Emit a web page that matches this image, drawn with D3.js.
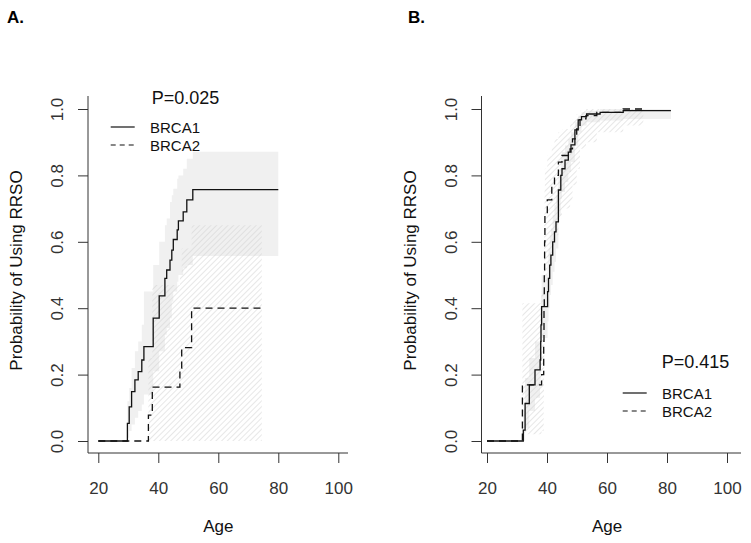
<!DOCTYPE html>
<html>
<head>
<meta charset="utf-8">
<script src="https://cdn.jsdelivr.net/npm/d3@7"></script>
<style>
  body { margin: 0; background: #fff; }
  svg { display: block; font-family: Arial, "Liberation Sans", sans-serif; }
</style>
</head>
<body>
<svg width="751" height="543"></svg>
<script>
const ageTicks = [20, 40, 60, 80, 100];
const probTicks = [0, 0.2, 0.4, 0.6, 0.8, 1.0];
const groups = ['BRCA1', 'BRCA2'];
const pValues = ['P=0.025', 'P=0.415'];
const panelTags = ['A.', 'B.'];

// panel A - BRCA1 (solid, grey band)
const aB1Age = [29.7, 30.3, 31.1, 32.2, 33.3, 34.5, 35.2, 38.3, 40.3, 42.2, 42.8, 43.9, 44.5, 45.0, 46.3, 46.7, 48.3, 49.5, 51.5];
const aB1Est = [0.053, 0.103, 0.149, 0.184, 0.209, 0.244, 0.284, 0.37, 0.437, 0.49, 0.515, 0.545, 0.575, 0.607, 0.636, 0.663, 0.69, 0.726, 0.757];
const aB1Lo  = [0.01, 0.03, 0.05, 0.07, 0.09, 0.11, 0.14, 0.21, 0.27, 0.32, 0.34, 0.37, 0.42, 0.45, 0.48, 0.50, 0.52, 0.53, 0.557];
const aB1Hi  = [0.12, 0.16, 0.22, 0.27, 0.30, 0.35, 0.45, 0.53, 0.60, 0.65, 0.67, 0.72, 0.74, 0.76, 0.79, 0.80, 0.82, 0.85, 0.871];
const aB1End = 80;

// panel A - BRCA2 (dashed, hatched band)
const aB2Age = [36.7, 38.0, 47.2, 47.8, 51.1];
const aB2Est = [0.078, 0.162, 0.219, 0.281, 0.40];
const aB2Lo  = [0, 0, 0, 0, 0];
const aB2Hi  = [0.25, 0.47, 0.50, 0.58, 0.65];
const aB2End = 74.5;

// panel B - BRCA1
const bB1Age = [32.1, 32.7, 34.1, 36.0, 37.7, 37.9, 38.0, 38.2, 40.2, 40.5, 40.9, 41.3, 41.9, 42.5, 43.0, 43.8, 44.6, 45.0, 46.0, 47.1, 48.0, 49.3, 50.4, 51.5, 53.2, 57.7, 65.4];
const bB1Est = [0.033, 0.113, 0.169, 0.214, 0.244, 0.30, 0.35, 0.405, 0.45, 0.49, 0.53, 0.56, 0.60, 0.63, 0.66, 0.756, 0.80, 0.82, 0.846, 0.87, 0.892, 0.937, 0.967, 0.977, 0.985, 0.99, 0.995];
const bB1Lo  = [0, 0.04, 0.09, 0.13, 0.16, 0.21, 0.26, 0.31, 0.36, 0.40, 0.44, 0.47, 0.51, 0.54, 0.58, 0.68, 0.73, 0.75, 0.78, 0.81, 0.84, 0.89, 0.93, 0.95, 0.96, 0.965, 0.97];
const bB1Hi  = [0.09, 0.19, 0.25, 0.30, 0.33, 0.39, 0.44, 0.50, 0.54, 0.58, 0.62, 0.64, 0.68, 0.71, 0.74, 0.82, 0.86, 0.87, 0.89, 0.91, 0.93, 0.96, 0.98, 0.99, 0.995, 1, 1];
const bB1End = 81.3;

// panel B - BRCA2
const bB2Age = [31.8, 38.2, 38.9, 39.0, 39.1, 39.2, 39.3, 40.1, 41.6, 42.5, 43.8, 45.0, 47.7, 48.5, 49.9, 51.0, 53.0, 56.6, 65.4];
const bB2Est = [0.169, 0.20, 0.30, 0.40, 0.50, 0.60, 0.676, 0.726, 0.77, 0.80, 0.84, 0.86, 0.88, 0.91, 0.94, 0.97, 0.98, 0.99, 1.0];
const bB2Lo  = [0.02, 0.03, 0.12, 0.20, 0.30, 0.40, 0.48, 0.53, 0.58, 0.62, 0.67, 0.70, 0.72, 0.77, 0.82, 0.88, 0.90, 0.93, 0.95];
const bB2Hi  = [0.415, 0.45, 0.52, 0.60, 0.68, 0.76, 0.82, 0.86, 0.89, 0.91, 0.93, 0.94, 0.955, 0.97, 0.985, 0.995, 1, 1, 1];
const bB2End = 72.1;

const svg = d3.select('svg');

// hatch for the BRCA2 confidence band
svg.append('defs').append('pattern')
    .attr('id', 'hatch')
    .attr('patternUnits', 'userSpaceOnUse')
    .attr('width', 4).attr('height', 4)
    .attr('patternTransform', 'rotate(45)')
  .append('line')
    .attr('x1', 0).attr('y1', 0).attr('x2', 0).attr('y2', 4)
    .attr('stroke', '#cfcfcf').attr('stroke-width', 1);

const panels = [
    {
        tag: panelTags[0], tagX: 7, p: pValues[0],
        axisX: 88, xRange: [98.3, 338.3], xEnd: 348,
        yLabX: 22, tickLabX: 63,
        pX: 151.7, pY: 104, legX: 110.7, legY: 127,
        s1: [aB1Age, aB1Est, aB1Lo, aB1Hi, aB1End],
        s2: [aB2Age, aB2Est, aB2Lo, aB2Hi, aB2End]
    },
    {
        tag: panelTags[1], tagX: 408, p: pValues[1],
        axisX: 481.5, xRange: [487, 727], xEnd: 741,
        yLabX: 415.5, tickLabX: 456.5,
        pX: 661.7, pY: 368, legX: 622.7, legY: 393,
        s1: [bB1Age, bB1Est, bB1Lo, bB1Hi, bB1End],
        s2: [bB2Age, bB2Est, bB2Lo, bB2Hi, bB2End]
    }
];

const plotTop = 96, plotBottom = 453;
const y = d3.scaleLinear().domain([0, 1]).range([441, 109]);

panels.forEach(P => {
    const g = svg.append('g');
    const x = d3.scaleLinear().domain([20, 100]).range(P.xRange);

    const toPts = ([age, est, lo, hi, end]) => {
        const pts = age.map((a, i) => ({ a, e: est[i], lo: lo[i], hi: hi[i] }));
        const last = pts[pts.length - 1];
        pts.push({ a: end, e: last.e, lo: last.lo, hi: last.hi });
        return pts;
    };
    const p1 = toPts(P.s1), p2 = toPts(P.s2);

    const area = d3.area()
        .curve(d3.curveStepAfter)
        .x(d => x(d.a))
        .y0(d => y(d.lo))
        .y1(d => y(d.hi));

    g.append('path').attr('d', area(p1)).attr('fill', '#f0f0f0');
    g.append('path').attr('d', area(p2)).attr('fill', 'url(#hatch)');

    const line = d3.line()
        .curve(d3.curveStepAfter)
        .x(d => x(d.a))
        .y(d => y(d.e));

    const start = { a: 20, e: 0 };
    g.append('path').attr('d', line([start, ...p2]))
        .attr('fill', 'none').attr('stroke', '#111').attr('stroke-width', 1.3)
        .attr('stroke-dasharray', '7,5');
    g.append('path').attr('d', line([start, ...p1]))
        .attr('fill', 'none').attr('stroke', '#111').attr('stroke-width', 1.3);

    // L-shaped frame
    g.append('path')
        .attr('d', `M${P.axisX},${plotTop}V${plotBottom}H${P.xEnd}`)
        .attr('fill', 'none').attr('stroke', '#333').attr('stroke-width', 1);

    // x axis
    const xa = g.append('g').attr('transform', `translate(0,${plotBottom})`)
        .call(d3.axisBottom(x).tickValues(ageTicks).tickSize(10).tickPadding(19));
    xa.select('.domain').remove();
    xa.selectAll('line').attr('stroke', '#333');
    xa.selectAll('text').attr('font-size', 17).attr('fill', '#333')
        .attr('font-family', 'Arial, "Liberation Sans", sans-serif');

    // y axis
    const ya = g.append('g').attr('transform', `translate(${P.axisX},0)`)
        .call(d3.axisLeft(y).tickValues(probTicks).tickSize(10).tickFormat(d3.format('.1f')));
    ya.select('.domain').remove();
    ya.selectAll('line').attr('stroke', '#333');
    ya.selectAll('text')
        .attr('font-size', 17).attr('fill', '#333')
        .attr('font-family', 'Arial, "Liberation Sans", sans-serif')
        .attr('x', null).attr('dy', null)
        .attr('text-anchor', 'middle')
        .attr('transform', `translate(${P.tickLabX - P.axisX},0) rotate(-90)`);

    // titles
    g.append('text')
        .attr('x', (P.xRange[0] + P.xRange[1]) / 2).attr('y', 532)
        .attr('text-anchor', 'middle').attr('font-size', 17).attr('fill', '#111')
        .text('Age');
    g.append('text')
        .attr('transform', `translate(${P.yLabX},${(plotTop + plotBottom) / 2 - 4}) rotate(-90)`)
        .attr('text-anchor', 'middle').attr('font-size', 17).attr('fill', '#111')
        .text('Probability of Using RRSO');
    g.append('text')
        .attr('x', P.tagX).attr('y', 23)
        .attr('font-size', 17).attr('font-weight', 'bold').attr('fill', '#000')
        .text(P.tag);

    // legend
    g.append('text')
        .attr('x', P.pX).attr('y', P.pY)
        .attr('font-size', 18).attr('fill', '#111')
        .text(P.p);
    groups.forEach((name, i) => {
        const ly = P.legY + i * 18;
        g.append('line')
            .attr('x1', P.legX).attr('x2', P.legX + 24)
            .attr('y1', ly).attr('y2', ly)
            .attr('stroke', '#111').attr('stroke-width', 1.2)
            .attr('stroke-dasharray', i ? '5,4' : null);
        g.append('text')
            .attr('x', P.legX + 39.3).attr('y', ly + 5.5)
            .attr('font-size', 15).attr('fill', '#111')
            .text(name);
    });
});
</script>
</body>
</html>
